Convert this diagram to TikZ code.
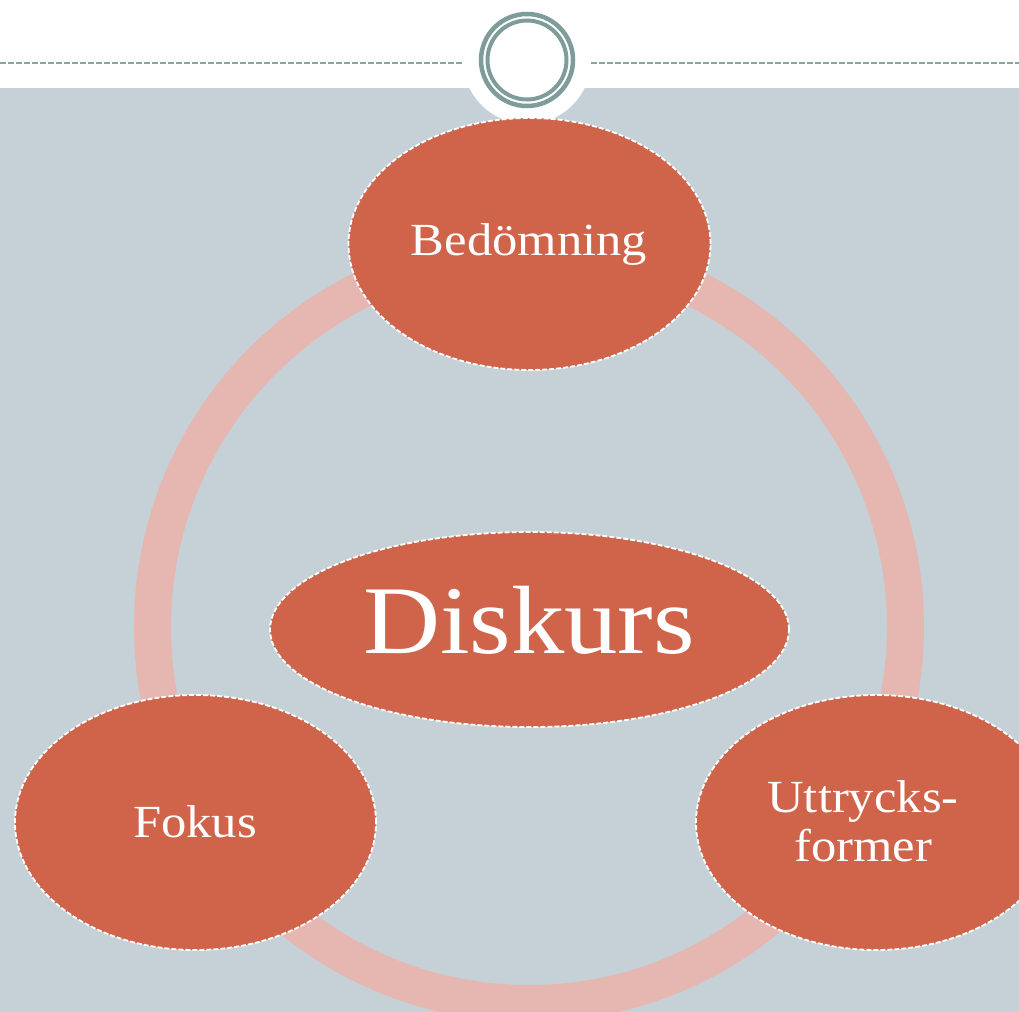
\documentclass[tikz,border=0pt]{standalone}
\usepackage{fontspec}
\usetikzlibrary{shapes.geometric}
\newfontfamily\geo[FakeStretch=1.1]{Liberation Serif}
\definecolor{slate}{HTML}{C5D1D7}
\definecolor{rose}{HTML}{E5B7B0}
\definecolor{brick}{HTML}{D0644A}
\definecolor{sage}{HTML}{7E9C99}
\definecolor{sagedash}{HTML}{8AA4A1}

\begin{document}
\begin{tikzpicture}[x=1bp,y=-1bp,
  blob/.style={ellipse, fill=brick, draw=white, line width=1.8bp,
    dash pattern=on 5bp off 2bp, inner sep=0pt},
  lbl/.style={text=white, anchor=base, inner sep=0pt, align=center,
    font=\geo\fontsize{46bp}{49bp}\selectfont},
  rule/.style={draw=sagedash, line width=2.5bp, dash pattern=on 6bp off 2bp}]
\path[clip] (0,0) rectangle (1019,1012);

% header strip and slide body
\fill[white] (0,0) rectangle (1019,88);
\fill[slate] (0,88) rectangle (1019,1012);

% cycle ring behind the outer ellipses
\draw[rose, line width=37bp] (529,627) circle (376.5bp);

% header emblem
\fill[white] (527,60) circle (64bp);
\draw[sage, line width=4.5bp] (527,60) circle (46bp);
\draw[sage, line width=4bp] (527,60) circle (39.5bp);

% dashed header rules
\coordinate (ruleLa) at (0,63);
\coordinate (ruleLb) at (462,63);
\coordinate (ruleRa) at (591,63);
\coordinate (ruleRb) at (1019,63);
\draw[rule] (ruleLa) -- (ruleLb);
\draw[rule] (ruleRa) -- (ruleRb);

% ellipses
\node[blob, minimum width=362bp, minimum height=252bp] (bed) at (529.5,244) {};
\node[blob, minimum width=519bp, minimum height=195bp] (disk) at (529.5,629.5) {};
\node[blob, minimum width=361bp, minimum height=255bp] (fok) at (195.5,822.5) {};
\node[blob, minimum width=361bp, minimum height=255bp] (utt) at (876.5,822.5) {};

% labels (base anchor of a two-line label sits on its last line)
\node[lbl] (bedtext) at (529,255) {Bedömning};
\node[lbl, font=\geo\fontsize{97bp}{100bp}\selectfont] (disktext) at (529,653) {Diskurs};
\node[lbl] (foktext) at (195,837) {Fokus};
\node[lbl] (utttext) at (863,861) {Uttrycks-\\former};
\end{tikzpicture}
\end{document}
